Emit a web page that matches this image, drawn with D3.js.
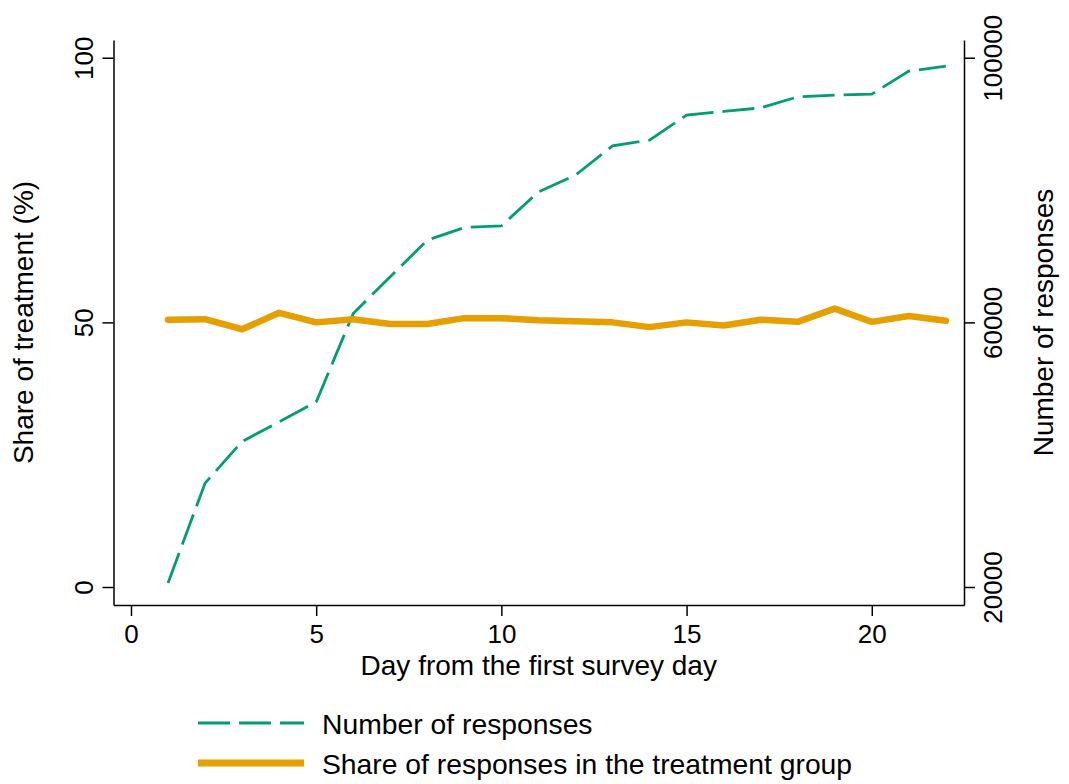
<!DOCTYPE html>
<html>
<head>
<meta charset="utf-8">
<script src="https://cdn.jsdelivr.net/npm/d3@7"></script>
<style>
  body { margin: 0; background: #fff; }
  svg { display: block; font-family: "Liberation Sans", Arial, Helvetica, sans-serif; }
  .axis path, .axis line { stroke: #000; stroke-width: 1.5; }
  .axis text { fill: #000; font-size: 26px; }
</style>
</head>
<body>
<svg id="chart"></svg>
<script>
const width = 1069;
const height = 784;

// day index from the first survey day
const days = d3.range(1, 23);

// share of responses in the treatment group (%)
const shareTreatment = [50.5, 50.6, 48.7, 51.8, 50.0, 50.6, 49.7, 49.7, 50.8, 50.8, 50.4,
  50.2, 50.0, 49.1, 50.0, 49.4, 50.5, 50.1, 52.6, 50.1, 51.2, 50.3];

// cumulative number of responses
const numResponses = [20600, 35700, 42000, 44950, 47970, 61340, 66900, 72420, 74340, 74580, 79720,
  82250, 86680, 87540, 91320, 91880, 92420, 94090, 94350, 94500, 97970, 98730];

const xTicks = [0, 5, 10, 15, 20];
const leftTicks = [0, 50, 100];
const rightTicks = [20000, 60000, 100000];

const legendItems = ["Number of responses", "Share of responses in the treatment group"];

const green = "#009E73";
const orange = "#E69F00";

const svg = d3.select("#chart")
  .attr("width", width)
  .attr("height", height);

const plotLeft = 113.5, plotRight = 964, plotTop = 40, plotBottom = 605;

const x = d3.scaleLinear()
  .domain([-0.472, 22.49])
  .range([plotLeft, plotRight]);

const yLeft = d3.scaleLinear()
  .domain([-3.4, 103.35])
  .range([plotBottom, plotTop]);

const yRight = d3.scaleLinear()
  .domain([20000 - 3.4 * 800, 20000 + 103.35 * 800])
  .range([plotBottom, plotTop]);

// X axis
svg.append("g")
  .attr("class", "axis")
  .attr("transform", `translate(0, ${plotBottom})`)
  .call(d3.axisBottom(x).tickValues(xTicks).tickSize(11).tickSizeOuter(0))
  .call(g => g.selectAll("text").attr("y", 38).attr("dy", 0));

// Left axis
svg.append("g")
  .attr("class", "axis")
  .attr("transform", `translate(${plotLeft}, 0)`)
  .call(d3.axisLeft(yLeft).tickValues(leftTicks).tickSize(11).tickSizeOuter(0))
  .call(g => g.selectAll("text")
    .attr("transform", "rotate(-90)")
    .attr("x", 0).attr("y", -21).attr("dy", 0)
    .attr("text-anchor", "middle"));

// Right axis
svg.append("g")
  .attr("class", "axis")
  .attr("transform", `translate(${plotRight}, 0)`)
  .call(d3.axisRight(yRight).tickValues(rightTicks).tickFormat(d3.format("d"))
    .tickSize(11).tickSizeOuter(0))
  .call(g => g.selectAll("text")
    .attr("transform", "rotate(-90)")
    .attr("x", 0).attr("y", 38).attr("dy", 0)
    .attr("text-anchor", "middle"));

// Axis titles
svg.append("text")
  .attr("x", (plotLeft + plotRight) / 2)
  .attr("y", 675)
  .attr("text-anchor", "middle")
  .attr("font-size", 28)
  .text("Day from the first survey day");

svg.append("text")
  .attr("transform", `translate(33, ${(plotTop + plotBottom) / 2}) rotate(-90)`)
  .attr("text-anchor", "middle")
  .attr("font-size", 28)
  .text("Share of treatment (%)");

svg.append("text")
  .attr("transform", `translate(1053, ${(plotTop + plotBottom) / 2}) rotate(-90)`)
  .attr("text-anchor", "middle")
  .attr("font-size", 28)
  .text("Number of responses");

// Lines
const responsesLine = d3.line()
  .x((d, i) => x(days[i]))
  .y(d => yRight(d));

const shareLine = d3.line()
  .x((d, i) => x(days[i]))
  .y(d => yLeft(d));

svg.append("path")
  .datum(numResponses)
  .attr("fill", "none")
  .attr("stroke", green)
  .attr("stroke-width", 2.8)
  .attr("stroke-dasharray", "32,9")
  .attr("d", responsesLine);

svg.append("path")
  .datum(shareTreatment)
  .attr("fill", "none")
  .attr("stroke", orange)
  .attr("stroke-width", 6.5)
  .attr("stroke-linejoin", "round")
  .attr("stroke-linecap", "round")
  .attr("d", shareLine);

// Legend
const legend = svg.append("g");
const legendRows = [
  { label: legendItems[0], color: green, width: 2.8, dash: "32,9", y: 723 },
  { label: legendItems[1], color: orange, width: 7, dash: null, y: 763 }
];

legend.selectAll("line")
  .data(legendRows)
  .enter()
  .append("line")
  .attr("x1", 198)
  .attr("x2", 304)
  .attr("y1", d => d.y)
  .attr("y2", d => d.y)
  .attr("stroke", d => d.color)
  .attr("stroke-width", d => d.width)
  .attr("stroke-dasharray", d => d.dash);

legend.selectAll("text")
  .data(legendRows)
  .enter()
  .append("text")
  .attr("x", 322)
  .attr("y", d => d.y + 11)
  .attr("font-size", 28.3)
  .text(d => d.label);
</script>
</body>
</html>
